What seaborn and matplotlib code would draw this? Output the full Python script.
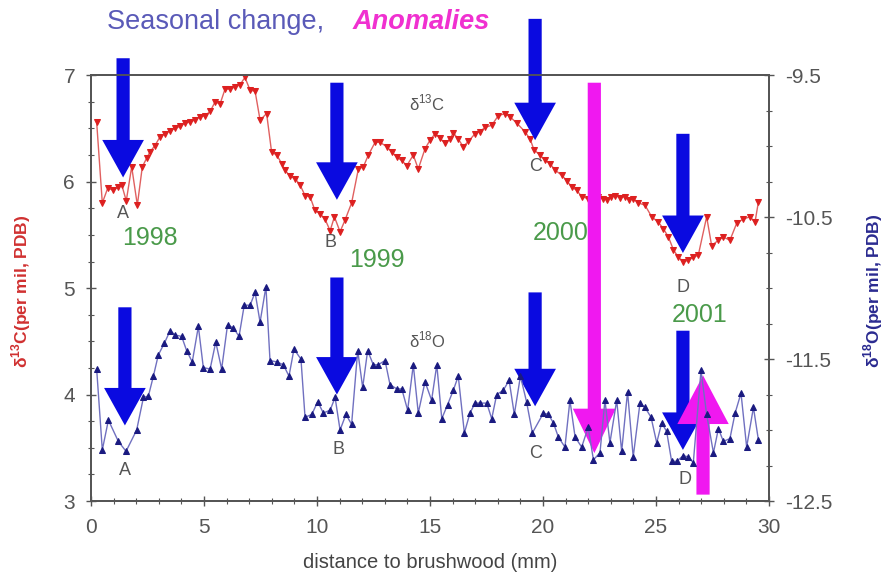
import matplotlib
matplotlib.use("Agg")
import matplotlib.pyplot as plt
from matplotlib.ticker import MultipleLocator, FixedLocator, FormatStrFormatter
import seaborn as sns

# delta 13C record (left axis)
d13c_mm = [0.25, 0.5, 0.74, 0.99, 1.21, 1.36, 1.56, 1.8, 2.05, 2.27, 2.46, 2.61, 2.83, 3.05,
           3.27, 3.5, 3.72, 3.94, 4.16, 4.38, 4.6, 4.82, 5.04, 5.27, 5.49, 5.71, 5.93, 6.15,
           6.37, 6.59, 6.81, 7.04, 7.26, 7.48, 7.77, 7.99, 8.22, 8.44, 8.58, 8.81, 9.03, 9.25,
           9.47, 9.69, 9.91, 10.13, 10.35, 10.58, 10.77, 11.02, 11.24, 11.53, 11.83, 12.05,
           12.27, 12.57, 12.79, 13.08, 13.31, 13.53, 13.75, 13.97, 14.26, 14.48, 14.78, 15.0,
           15.22, 15.44, 15.66, 15.88, 16.03, 16.25, 16.47, 16.7, 16.99, 17.21, 17.43, 17.73,
           18.02, 18.32, 18.54, 18.84, 19.2, 19.43, 19.6, 19.87, 20.09, 20.31, 20.53, 20.83,
           21.05, 21.27, 21.49, 21.71, 22.0, 22.23, 22.45, 22.67, 22.82, 23.0, 23.19, 23.41,
           23.63, 23.82, 24.0, 24.22, 24.51, 24.81, 25.1, 25.32, 25.55, 25.77, 25.99, 26.21,
           26.43, 26.65, 26.87, 27.24, 27.46, 27.76, 27.98, 28.27, 28.57, 28.86, 29.16, 29.38,
           29.53]
d13c = [6.56, 5.80, 5.94, 5.92, 5.95, 5.97, 5.82, 6.14, 5.78, 6.14, 6.22, 6.28, 6.34, 6.42,
        6.45, 6.48, 6.50, 6.52, 6.55, 6.56, 6.58, 6.61, 6.62, 6.66, 6.75, 6.73, 6.87, 6.87,
        6.89, 6.91, 6.98, 6.86, 6.85, 6.58, 6.64, 6.28, 6.25, 6.17, 6.11, 6.05, 6.03, 5.97,
        5.87, 5.86, 5.73, 5.70, 5.65, 5.54, 5.67, 5.53, 5.64, 5.80, 6.12, 6.14,
        6.25, 6.37, 6.37, 6.33, 6.28, 6.23, 6.20, 6.15, 6.25, 6.12, 6.31, 6.39,
        6.45, 6.41, 6.36, 6.40, 6.46, 6.40, 6.33, 6.38, 6.45, 6.47, 6.51, 6.53,
        6.62, 6.64, 6.61, 6.55, 6.47, 6.40, 6.30, 6.25, 6.20, 6.17, 6.11, 6.06,
        6.01, 5.95, 5.92, 5.86, 5.84, 5.86, 5.86, 5.84, 5.83, 5.86, 5.87, 5.85,
        5.86, 5.83, 5.84, 5.80, 5.78, 5.67, 5.62, 5.56, 5.48, 5.36, 5.29, 5.25,
        5.26, 5.29, 5.31, 5.67, 5.40, 5.45, 5.48, 5.45, 5.61, 5.65, 5.67, 5.62,
        5.81]

# delta 18O record (right axis)
d18o_mm = [0.25, 0.5, 0.77, 1.21, 1.55, 2.02, 2.32, 2.54, 2.76, 2.98, 3.24, 3.5, 3.72, 4.01,
           4.23, 4.48, 4.75, 4.97, 5.27, 5.52, 5.78, 6.04, 6.3, 6.55, 6.78, 7.04, 7.26, 7.48,
           7.74, 7.92, 8.22, 8.51, 8.76, 8.98, 9.29, 9.47, 9.77, 10.03, 10.28, 10.58, 10.8,
           11.02, 11.28, 11.53, 11.8, 12.02, 12.24, 12.49, 12.71, 13.01, 13.23, 13.53, 13.75,
           14.01, 14.26, 14.48, 14.78, 15.07, 15.3, 15.52, 15.78, 16.03, 16.25, 16.52, 16.77,
           16.99, 17.21, 17.51, 17.73, 17.95, 18.24, 18.5, 18.73, 19.0, 19.27, 19.53, 20.02,
           20.24, 20.46, 20.68, 20.97, 21.19, 21.42, 21.71, 22.0, 22.23, 22.52, 22.74, 22.96,
           23.26, 23.48, 23.74, 23.99, 24.29, 24.51, 24.78, 25.03, 25.25, 25.47, 25.69, 25.91,
           26.21, 26.43, 26.65, 26.99, 27.24, 27.54, 27.76, 27.98, 28.27, 28.5, 28.76, 29.01,
           29.31, 29.53]
d18o = [-11.57, -12.14, -11.93, -12.08, -12.15, -12.00, -11.77, -11.76, -11.62, -11.47,
        -11.39, -11.30, -11.33, -11.34, -11.44, -11.52, -11.27, -11.56, -11.57, -11.38,
        -11.57, -11.26, -11.28, -11.34, -11.12, -11.12, -11.03, -11.24, -10.99, -11.51,
        -11.52, -11.54, -11.62, -11.43, -11.50, -11.91, -11.89, -11.80, -11.88, -11.86,
        -11.77, -12.00, -11.89, -11.96, -11.44, -11.70, -11.44, -11.54, -11.54, -11.51,
        -11.68, -11.71, -11.71, -11.86, -11.54, -11.88, -11.66, -11.79, -11.54, -11.92,
        -11.82, -11.72, -11.62, -12.02, -11.88, -11.81, -11.81, -11.81, -11.92, -11.75,
        -11.72, -11.65, -11.89, -11.62, -11.80, -12.02, -11.88, -11.89, -11.95, -12.05,
        -12.12, -11.79, -12.05, -12.12, -11.98, -12.21, -12.16, -11.79, -12.09, -11.79,
        -12.15, -11.73, -12.19, -11.81, -11.84, -11.91, -12.09, -11.95, -12.01, -12.22,
        -12.22, -12.18, -12.19, -12.23, -11.58, -11.89, -12.16, -11.99, -12.08, -12.06,
        -11.88, -11.74, -12.12, -11.84, -12.07]
d18o_ticks = [-12.5, -11.5, -10.5, -9.5]

# seasonal markers (x, arrow tail, arrow tip) in left-axis units
season_x = [1.42, 10.88, 19.65, 26.19, 1.50, 10.88, 19.65, 26.19]
season_tail = [7.16, 6.93, 7.53, 6.45, 4.82, 5.10, 4.96, 4.60]
season_tip = [6.04, 5.83, 6.39, 5.33, 3.71, 4.00, 3.89, 3.48]

letters = ["A", "B", "C", "D", "A", "B", "C", "D"]
letter_x = [1.42, 10.58, 19.65, 26.19, 1.50, 10.93, 19.65, 26.28]
letter_y = [5.70, 5.43, 6.14, 5.01, 3.29, 3.48, 3.45, 3.20]

years = ["1998", "1999", "2000", "2001"]
year_x = [2.61, 12.65, 20.8, 26.95]
year_y = [5.47, 5.26, 5.52, 4.75]

sns.set_style("ticks")
plt.rcParams["font.family"] = ["Liberation Sans", "DejaVu Sans"]
plt.rcParams["mathtext.fontset"] = "custom"
plt.rcParams["mathtext.rm"] = "Liberation Sans"
plt.rcParams["mathtext.bf"] = "Liberation Sans:bold"
plt.rcParams["axes.unicode_minus"] = False

grey = "#555555"
fig = plt.figure(figsize=(8.87, 5.79), dpi=100)
ax = fig.add_axes([0.1026, 0.1347, 0.7644, 0.7353])
ax2 = ax.twinx()

sns.lineplot(x=d13c_mm, y=d13c, ax=ax, sort=False, color="#e06060", lw=1,
             marker="v", markersize=5, markerfacecolor="#dd2020", markeredgecolor="#dd2020")
sns.lineplot(x=d18o_mm, y=d18o, ax=ax2, sort=False, color="#7070c0", lw=1,
             marker="^", markersize=5, markerfacecolor="#1a1a80", markeredgecolor="#1a1a80")

ax.set_xlim(0, 30)
ax.set_ylim(3, 7)
ax2.set_ylim(-12.5, -9.5)
ax.xaxis.set_major_locator(MultipleLocator(5))
ax.xaxis.set_minor_locator(MultipleLocator(1))
ax.yaxis.set_major_locator(MultipleLocator(1))
ax.yaxis.set_minor_locator(MultipleLocator(0.25))
ax2.yaxis.set_major_locator(FixedLocator(d18o_ticks))
ax2.yaxis.set_major_formatter(FormatStrFormatter("%.1f"))
ax2.yaxis.set_minor_locator(MultipleLocator(0.25))

for a in (ax, ax2):
    for s in a.spines.values():
        s.set_color(grey)
        s.set_linewidth(1.3)
    a.tick_params(which="major", direction="inout", length=7, width=1, color=grey,
                  labelcolor=grey, labelsize=15)
    a.tick_params(which="minor", direction="inout", length=4, width=0.8, color=grey)
ax.tick_params(axis="x", pad=9)
ax.tick_params(axis="y", pad=8)
ax2.tick_params(axis="y", pad=8)

ax.set_xlabel("distance to brushwood (mm)", fontsize=14.5, color="#444444", labelpad=11)
fig.text(0.024, 0.497, r"δ$^{\mathbf{13}}$C(per mil, PDB)", rotation=90, ha="center",
         va="center", color="#d03030", fontsize=12.5, fontweight="bold")
fig.text(0.985, 0.497, r"δ$^{\mathbf{18}}$O(per mil, PDB)", rotation=90, ha="center",
         va="center", color="#2a2a90", fontsize=12.5, fontweight="bold")

fig.text(0.121, 0.962, "Seasonal change,", color="#5a5ab8", fontsize=19.5, va="center")
fig.text(0.398, 0.962, "Anomalies", color="#f030d0", fontsize=19.5, va="center",
         fontweight="bold", fontstyle="italic")

ax.text(14.87, 6.74, r"δ$^{13}$C", color=grey, fontsize=12, ha="center", va="center")
ax.text(14.87, 4.51, r"δ$^{18}$O", color=grey, fontsize=12, ha="center", va="center")

blue_style = "simple,tail_width=0.95,head_width=3.0,head_length=2.7"
for x, t0, t1 in zip(season_x, season_tail, season_tip):
    ax.annotate("", xy=(x, t1), xytext=(x, t0), annotation_clip=False,
                arrowprops=dict(arrowstyle=blue_style, mutation_scale=10, color="#0a0ae0",
                                shrinkA=0, shrinkB=0, lw=0))

# anomalies
ax.annotate("", xy=(22.27, 3.45), xytext=(22.27, 6.93), annotation_clip=False,
            arrowprops=dict(arrowstyle="simple,tail_width=0.95,head_width=3.1,head_length=3.2",
                            mutation_scale=10, color="#f018f0", shrinkA=0, shrinkB=0, lw=0))
ax.annotate("", xy=(27.08, 4.18), xytext=(27.08, 3.06), annotation_clip=False,
            arrowprops=dict(arrowstyle="simple,tail_width=0.95,head_width=3.7,head_length=3.5",
                            mutation_scale=10, color="#f018f0", shrinkA=0, shrinkB=0, lw=0))

for s, x, y in zip(letters, letter_x, letter_y):
    ax.text(x, y, s, color=grey, fontsize=13, ha="center", va="center")
for s, x, y in zip(years, year_x, year_y):
    ax.text(x, y, s, color="#4a9a4a", fontsize=18, ha="center", va="center")

fig.savefig("out.png", dpi=100)
